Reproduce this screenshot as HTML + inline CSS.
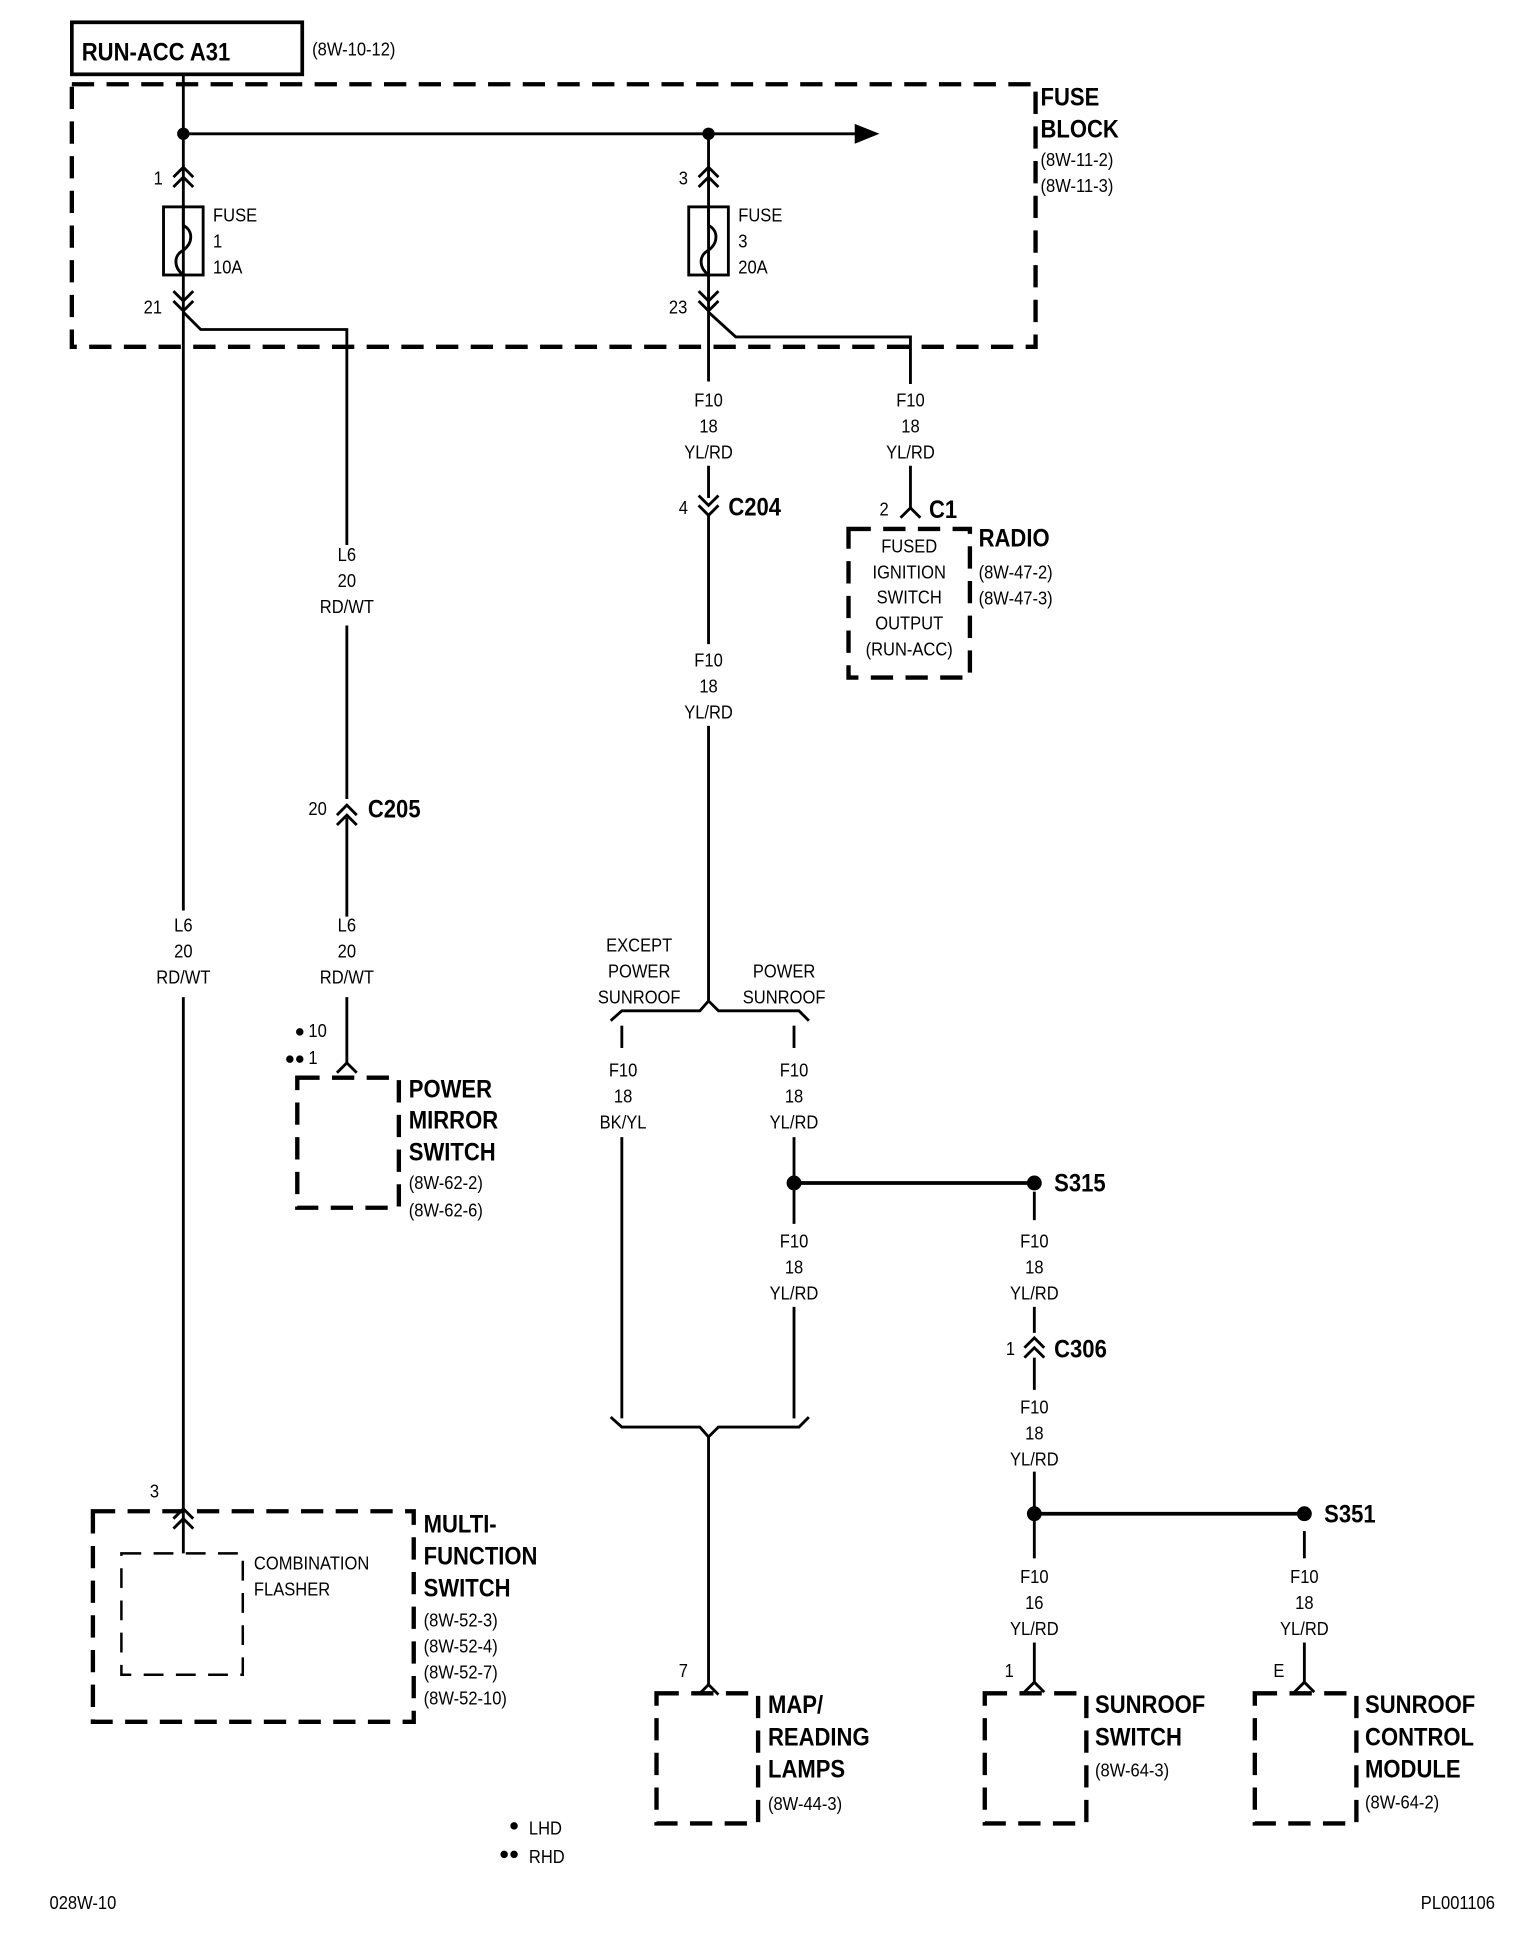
<!DOCTYPE html>
<html><head><meta charset="utf-8"><style>
html,body{margin:0;padding:0;background:#fff;}
svg{display:block;}
text{font-family:"Liberation Sans Narrow","Liberation Sans",sans-serif;fill:#000;transform-box:fill-box;transform-origin:0% 50%;transform:scaleX(0.89);}
.s{font-size:15px;}
.b{font-size:20px;font-weight:bold;}
.m text,text.m{text-anchor:middle;transform-origin:50% 50%;}
</style></head><body>
<svg width="1536" height="1938" viewBox="0 0 1240 1564.5" preserveAspectRatio="none" xmlns="http://www.w3.org/2000/svg">
<g fill="none" stroke="#000" stroke-width="2.3">
<rect x="58" y="18" width="186" height="42" stroke-width="3"/>
<rect x="58" y="68" width="778" height="212" stroke-width="3.5" stroke-dasharray="18 10"/>
<line x1="148" y1="60" x2="148" y2="735"/>
<line x1="148" y1="805" x2="148" y2="1226"/>
<line x1="148" y1="108" x2="695" y2="108"/>
<line x1="572" y1="108" x2="572" y2="308"/>
<rect x="132" y="167" width="32" height="55"/>
<path d="M148 167 v15 c8 4 8 14 0 20 c-8 4 -8 14 0 20"/>
<path d="M140 143 l8 -8 l8 8 M140 151 l8 -8 l8 8"/>
<path d="M140 235 l8 8 l8 -8 M140 243 l8 8 l8 -8"/>
<path d="M148 252 l14 14 h118 v174"/>
<line x1="280" y1="505" x2="280" y2="645"/>
<path d="M272 658 l8 -8 l8 8 M272 666 l8 -8 l8 8"/>
<line x1="280" y1="660" x2="280" y2="740"/>
<line x1="280" y1="805" x2="280" y2="858"/>
<path d="M272 866 l8 -8 l8 8"/>
<rect x="556" y="167" width="32" height="55"/>
<path d="M572 167 v15 c8 4 8 14 0 20 c-8 4 -8 14 0 20"/>
<path d="M564 143 l8 -8 l8 8 M564 151 l8 -8 l8 8"/>
<path d="M564 235 l8 8 l8 -8 M564 243 l8 8 l8 -8"/>
<path d="M572 252 l22 20 h141 v38"/>
<line x1="735" y1="376" x2="735" y2="410"/>
<path d="M727 418 l8 -8 l8 8"/>
<line x1="572" y1="376" x2="572" y2="402"/>
<path d="M564 400 l8 8 l8 -8 M564 408 l8 8 l8 -8"/>
<line x1="572" y1="416" x2="572" y2="520"/>
<line x1="572" y1="586" x2="572" y2="808"/>
<path d="M493 824 l9 -8 h63 l7 -8 l8 8 h65 l8 8"/>
<line x1="502" y1="828" x2="502" y2="846"/>
<line x1="641" y1="828" x2="641" y2="846"/>
<line x1="502" y1="918" x2="502" y2="1145"/>
<line x1="641" y1="918" x2="641" y2="988"/>
<line x1="641" y1="1055" x2="641" y2="1145"/>
<path d="M493 1144 l9 8 h63 l7 8 l8 -8 h65 l8 -8"/>
<line x1="572" y1="1160" x2="572" y2="1360"/>
<path d="M564 1368 l8 -8 l8 8"/>
<line x1="641" y1="955" x2="835" y2="955" stroke-width="3"/>
<line x1="835" y1="962" x2="835" y2="985"/>
<line x1="835" y1="1055" x2="835" y2="1076"/>
<path d="M827 1088 l8 -8 l8 8 M827 1096 l8 -8 l8 8"/>
<line x1="835" y1="1096" x2="835" y2="1122"/>
<line x1="835" y1="1188" x2="835" y2="1258"/>
<line x1="835" y1="1222" x2="1053" y2="1222" stroke-width="3"/>
<line x1="1053" y1="1236" x2="1053" y2="1258"/>
<line x1="835" y1="1326" x2="835" y2="1358"/>
<path d="M827 1366 l8 -8 l8 8"/>
<line x1="1053" y1="1326" x2="1053" y2="1358"/>
<path d="M1045 1366 l8 -8 l8 8"/>
<path d="M140 1226 l8 -8 l8 8"/>
<path d="M140 1234 l8 -8 l8 8"/>
<line x1="148" y1="1226" x2="148" y2="1254"/>
</g>
<g fill="none" stroke="#000" stroke-width="3.5" stroke-dasharray="18 10">
<rect x="685" y="427" width="98" height="120"/>
<rect x="240" y="870" width="82" height="105"/>
<rect x="75" y="1220" width="259" height="170"/>
<rect x="530" y="1367" width="82" height="105"/>
<rect x="795" y="1367" width="82" height="105"/>
<rect x="1013" y="1367" width="82" height="105"/>
</g>
<rect x="98" y="1254" width="98" height="98" fill="none" stroke="#000" stroke-width="2" stroke-dasharray="16 10"/>
<path d="M690 100 L710 108 L690 116 Z" fill="#000"/>
<g fill="#000">
<circle cx="148" cy="108" r="5"/><circle cx="572" cy="108" r="5"/>
<circle cx="641" cy="955" r="6"/><circle cx="835" cy="955" r="6"/>
<circle cx="835" cy="1222" r="6"/><circle cx="1053" cy="1222" r="6"/>
<circle cx="242" cy="833" r="3"/><circle cx="234" cy="855" r="3"/><circle cx="242" cy="855" r="3"/>
<circle cx="415" cy="1474" r="3"/><circle cx="407" cy="1497" r="3"/><circle cx="415" cy="1497" r="3"/>
</g>
<text x="66" y="49" class="b">RUN-ACC A31</text>
<text x="252" y="45" class="s">(8W-10-12)</text>
<text x="840" y="85" class="b">FUSE</text>
<text x="840" y="111" class="b">BLOCK</text>
<text x="840" y="134" class="s">(8W-11-2)</text>
<text x="840" y="155" class="s">(8W-11-3)</text>
<text x="124" y="149" class="s">1</text>
<text x="172" y="179" class="s">FUSE</text><text x="172" y="200" class="s">1</text><text x="172" y="221" class="s">10A</text>
<text x="116" y="253" class="s">21</text>
<text x="548" y="149" class="s">3</text>
<text x="596" y="179" class="s">FUSE</text><text x="596" y="200" class="s">3</text><text x="596" y="221" class="s">20A</text>
<text x="540" y="253" class="s">23</text>
<g class="s m">
<text x="572" y="328">F10</text><text x="572" y="349">18</text><text x="572" y="370">YL/RD</text>
<text x="735" y="328">F10</text><text x="735" y="349">18</text><text x="735" y="370">YL/RD</text>
<text x="572" y="538">F10</text><text x="572" y="559">18</text><text x="572" y="580">YL/RD</text>
<text x="280" y="453">L6</text><text x="280" y="474">20</text><text x="280" y="495">RD/WT</text>
<text x="280" y="752">L6</text><text x="280" y="773">20</text><text x="280" y="794">RD/WT</text>
<text x="148" y="752">L6</text><text x="148" y="773">20</text><text x="148" y="794">RD/WT</text>
<text x="734" y="446">FUSED</text><text x="734" y="467">IGNITION</text><text x="734" y="487">SWITCH</text><text x="734" y="508">OUTPUT</text><text x="734" y="529">(RUN-ACC)</text>
<text x="516" y="768">EXCEPT</text><text x="516" y="789">POWER</text><text x="516" y="810">SUNROOF</text>
<text x="633" y="789">POWER</text><text x="633" y="810">SUNROOF</text>
<text x="503" y="869">F10</text><text x="503" y="890">18</text><text x="503" y="911">BK/YL</text>
<text x="641" y="869">F10</text><text x="641" y="890">18</text><text x="641" y="911">YL/RD</text>
<text x="641" y="1007">F10</text><text x="641" y="1028">18</text><text x="641" y="1049">YL/RD</text>
<text x="835" y="1007">F10</text><text x="835" y="1028">18</text><text x="835" y="1049">YL/RD</text>
<text x="835" y="1141">F10</text><text x="835" y="1162">18</text><text x="835" y="1183">YL/RD</text>
<text x="835" y="1278">F10</text><text x="835" y="1299">16</text><text x="835" y="1320">YL/RD</text>
<text x="1053" y="1278">F10</text><text x="1053" y="1299">18</text><text x="1053" y="1320">YL/RD</text>
</g>
<text x="548" y="415" class="s">4</text><text x="588" y="416" class="b">C204</text>
<text x="710" y="416" class="s">2</text><text x="750" y="418" class="b">C1</text>
<text x="790" y="441" class="b">RADIO</text>
<text x="790" y="467" class="s">(8W-47-2)</text><text x="790" y="488" class="s">(8W-47-3)</text>
<text x="249" y="658" class="s">20</text><text x="297" y="660" class="b">C205</text>
<text x="249" y="837" class="s">10</text><text x="249" y="859" class="s">1</text>
<text x="330" y="886" class="b">POWER</text><text x="330" y="911" class="b">MIRROR</text><text x="330" y="937" class="b">SWITCH</text>
<text x="330" y="960" class="s">(8W-62-2)</text><text x="330" y="982" class="s">(8W-62-6)</text>
<text x="851" y="962" class="b">S315</text>
<text x="812" y="1094" class="s">1</text><text x="851" y="1096" class="b">C306</text>
<text x="1069" y="1229" class="b">S351</text>
<text x="121" y="1209" class="s">3</text>
<text x="205" y="1267" class="s">COMBINATION</text><text x="205" y="1288" class="s">FLASHER</text>
<text x="342" y="1237" class="b">MULTI-</text><text x="342" y="1263" class="b">FUNCTION</text><text x="342" y="1289" class="b">SWITCH</text>
<text x="342" y="1313" class="s">(8W-52-3)</text><text x="342" y="1334" class="s">(8W-52-4)</text><text x="342" y="1355" class="s">(8W-52-7)</text><text x="342" y="1376" class="s">(8W-52-10)</text>
<text x="548" y="1354" class="s">7</text>
<text x="620" y="1383" class="b">MAP/</text><text x="620" y="1409" class="b">READING</text><text x="620" y="1435" class="b">LAMPS</text>
<text x="620" y="1461" class="s">(8W-44-3)</text>
<text x="811" y="1354" class="s">1</text>
<text x="884" y="1383" class="b">SUNROOF</text><text x="884" y="1409" class="b">SWITCH</text>
<text x="884" y="1434" class="s">(8W-64-3)</text>
<text x="1028" y="1354" class="s">E</text>
<text x="1102" y="1383" class="b">SUNROOF</text><text x="1102" y="1409" class="b">CONTROL</text><text x="1102" y="1435" class="b">MODULE</text>
<text x="1102" y="1460" class="s">(8W-64-2)</text>
<text x="427" y="1481" class="s">LHD</text><text x="427" y="1504" class="s">RHD</text>
<text x="40" y="1541" class="s">028W-10</text>
<text x="1147" y="1541" class="s">PL001106</text>
</svg>
</body></html>
